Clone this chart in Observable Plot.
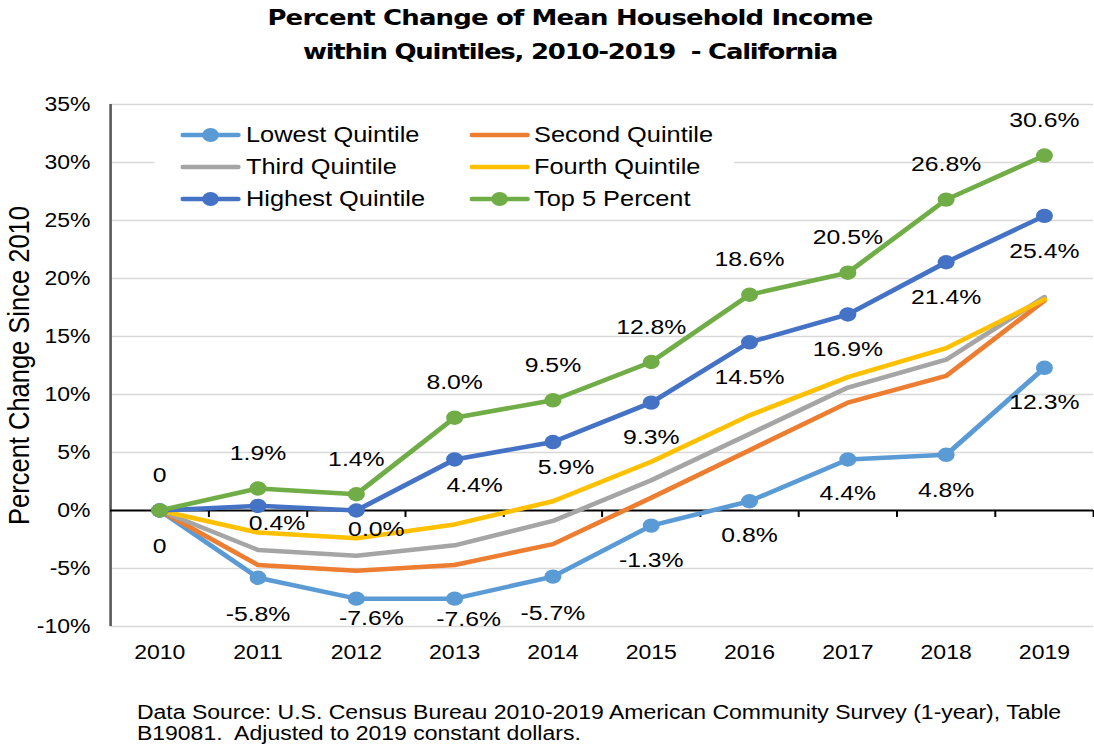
<!DOCTYPE html>
<html>
<head>
<meta charset="utf-8">
<script src="https://cdn.jsdelivr.net/npm/d3@7"></script>
<script src="https://cdn.jsdelivr.net/npm/@observablehq/plot@0.6"></script>
<style>
  html, body { margin: 0; padding: 0; background: #fff; overflow: hidden; }
  #wrap { position: relative; width: 927px; height: 744px; transform: scaleX(1.18); transform-origin: 0 0;
          font-family: "Liberation Sans", Arial, sans-serif; color: #000; }
  .tline { position: absolute; left: 0; width: 966px; text-align: center; white-space: pre;
           font-family: "DejaVu Sans", sans-serif; font-weight: bold; font-size: 22px; line-height: 30px; color: #000; }
  #chart { position: absolute; left: 0; top: 85px; }
  #legendBox { position: absolute; left: 131px; top: 110px; width: 491px; height: 104px; background: #fff; }
  .lgText { position: absolute; font-size: 21.5px; line-height: 24px; white-space: pre; color: #000; }
  .lgSw { position: absolute; }
  #caption { position: absolute; left: 116px; top: 702px; font-size: 19.5px; line-height: 21px; white-space: pre; color: #000; }
</style>
</head>
<body>
<div id="wrap">
  <div class="tline" id="t1" style="top:3px"></div>
  <div class="tline" id="t2" style="top:37px"></div>
  <div id="chart"></div>
  <div id="legendBox"></div>
  <div id="caption"></div>
</div>
<script>
// ---------- data ----------
const titleLines = ["Percent Change of Mean Household Income", "within Quintiles, 2010-2019  - California"];
const yAxisTitle = "Percent Change Since 2010";
const captionText = "Data Source: U.S. Census Bureau 2010-2019 American Community Survey (1-year), Table\nB19081.  Adjusted to 2019 constant dollars.";

const years = [2010, 2011, 2012, 2013, 2014, 2015, 2016, 2017, 2018, 2019];
const yTicks = [-10, -5, 0, 5, 10, 15, 20, 25, 30, 35];

const seriesNames = ["Lowest Quintile", "Second Quintile", "Third Quintile", "Fourth Quintile", "Highest Quintile", "Top 5 Percent"];
const lowest  = [0, -5.8, -7.6, -7.6, -5.7, -1.3, 0.8, 4.4, 4.8, 12.3];
const second  = [0, -4.7, -5.2, -4.7, -2.9, 1.1, 5.2, 9.3, 11.6, 18.1];
const third   = [0, -3.4, -3.9, -3.0, -0.9, 2.6, 6.6, 10.6, 13.0, 18.4];
const fourth  = [0, -1.9, -2.4, -1.2, 0.8, 4.2, 8.2, 11.5, 14.0, 18.2];
const highest = [0, 0.4, 0.0, 4.4, 5.9, 9.3, 14.5, 16.9, 21.4, 25.4];
const top5    = [0, 1.9, 1.4, 8.0, 9.5, 12.8, 18.6, 20.5, 26.8, 30.6];

// ---------- layout / style ----------
const S = 1.18;          // horizontal stretch of the whole page
const W = 927;           // inner width (1094 / S)
const colors = ["#5B9BD5", "#ED7D31", "#A5A5A5", "#FFC000", "#4472C4", "#70AD47"];
const hasMarkers = [true, false, false, false, true, true];
// data-label nudges (px): null = no label
const labelDx = [
  [0, 0, 15, 14, 0, 0, 0, 0, 0, 0],
  null, null, null,
  [0, 19, 20, 20, 13, 0, 0, 0, 0, 0],
  [0, 0, 0, 0, 0, 0, 0, 0, 0, 0]
];
const labelDy = [
  [36, 36, 20, 21, 37, 35, 34, 34, 35, 34],
  null, null, null,
  [null, 17, 19, 26, 25, 35, 35, 35, 35, 35],
  [-35, -35, -35, -35, -35, -35, -35, -35, -35, -35]
];

const seriesValues = [lowest, second, third, fourth, highest, top5];
const series = seriesNames.map((name, k) => ({
  name, color: colors[k], markers: hasMarkers[k],
  data: years.map((year, i) => ({year, value: seriesValues[k][i], i}))
}));

const fmt = (d) => d.year === years[0] ? "0" : d.value.toFixed(1) + "%";
const boundaries = years.map(y => y + 0.5);

const marks = [
  Plot.ruleY(yTicks.filter(d => d !== 0), {stroke: "#d9d9d9", strokeWidth: 1.5}),
  Plot.axisY({ticks: yTicks, tickFormat: d => d + "%", tickSize: 0, tickPadding: 17, label: null, fontSize: 19.5}),
  Plot.axisX({ticks: years, tickFormat: d => String(d), tickSize: 0, tickPadding: 19, label: null, fontSize: 19.5}),
  Plot.ruleX([years[0] - 0.5], {y1: yTicks[0], y2: yTicks[yTicks.length - 1], stroke: "#595959", strokeWidth: 2.2}),
  Plot.ruleY([0], {stroke: "#000", strokeWidth: 2}),
  Plot.ruleX(boundaries, {y1: 0, y2: -0.6, stroke: "#000", strokeWidth: 1.7}),
  Plot.text([yAxisTitle], {frameAnchor: "left", textAnchor: "middle", rotate: -90, dx: -(110 - 19) / S,
    fontSize: 25.5, text: d => d, fill: "#000"})
];

series.forEach(s => {
  marks.push(Plot.line(s.data, {x: "year", y: "value", stroke: s.color, strokeWidth: 4.5,
    strokeLinejoin: "round", strokeLinecap: "round"}));
  if (s.markers) marks.push(Plot.dot(s.data, {x: "year", y: "value", r: 7.2, fill: s.color, stroke: "none"}));
});

series.forEach((s, k) => {
  if (!labelDy[k]) return;
  s.data.forEach((d, i) => {
    if (labelDy[k][i] == null) return;
    marks.push(Plot.text([d], {x: "year", y: "value", text: fmt,
      dx: labelDx[k][i] / S, dy: labelDy[k][i], fontSize: 21, fill: "#000"}));
  });
});

const chart = Plot.plot({
  width: W,
  height: 600,
  marginLeft: 110 / S,
  marginRight: W - 1093 / S,
  marginTop: 19,
  marginBottom: 59,
  x: {domain: [years[0] - 0.5, years[years.length - 1] + 0.5]},
  y: {domain: [yTicks[0], yTicks[yTicks.length - 1]]},
  style: {fontFamily: "'Liberation Sans', Arial, sans-serif", fontSize: "19.5px", color: "#000", background: "transparent", overflow: "visible"},
  marks
});
document.getElementById("chart").appendChild(chart);

// ---------- title (fit widths) ----------
const titleTargets = [605 / S, 534 / S];
const cv = document.createElement("canvas").getContext("2d");
cv.font = "bold 22px 'DejaVu Sans'";
titleLines.forEach((t, i) => {
  const el = document.getElementById("t" + (i + 1));
  el.textContent = t;
  const w = cv.measureText(t).width;
  el.style.letterSpacing = ((titleTargets[i] - w) / t.length) + "px";
});

// ---------- legend ----------
const wrap = document.getElementById("wrap");
const colLine = [181 / S, 470 / S];
const colText = [246 / S, 534 / S];
const rowY = [135, 167, 199];
const swW = 60 / S;
series.forEach((s, k) => {
  const col = k % 2, row = Math.floor(k / 2);
  const sw = document.createElementNS("http://www.w3.org/2000/svg", "svg");
  sw.setAttribute("class", "lgSw");
  sw.setAttribute("width", swW);
  sw.setAttribute("height", 18);
  sw.style.left = colLine[col] + "px";
  sw.style.top = (rowY[row] - 9) + "px";
  sw.innerHTML = `<line x1="2" y1="9" x2="${swW - 2}" y2="9" stroke="${s.color}" stroke-width="4.5" stroke-linecap="round"/>` +
    (s.markers ? `<circle cx="${swW / 2}" cy="9" r="7" fill="${s.color}"/>` : "");
  wrap.appendChild(sw);
  const tx = document.createElement("div");
  tx.className = "lgText";
  tx.textContent = s.name;
  tx.style.left = colText[col] + "px";
  tx.style.top = (rowY[row] - 11.8) + "px";
  wrap.appendChild(tx);
});

document.getElementById("caption").textContent = captionText;
</script>
</body>
</html>
